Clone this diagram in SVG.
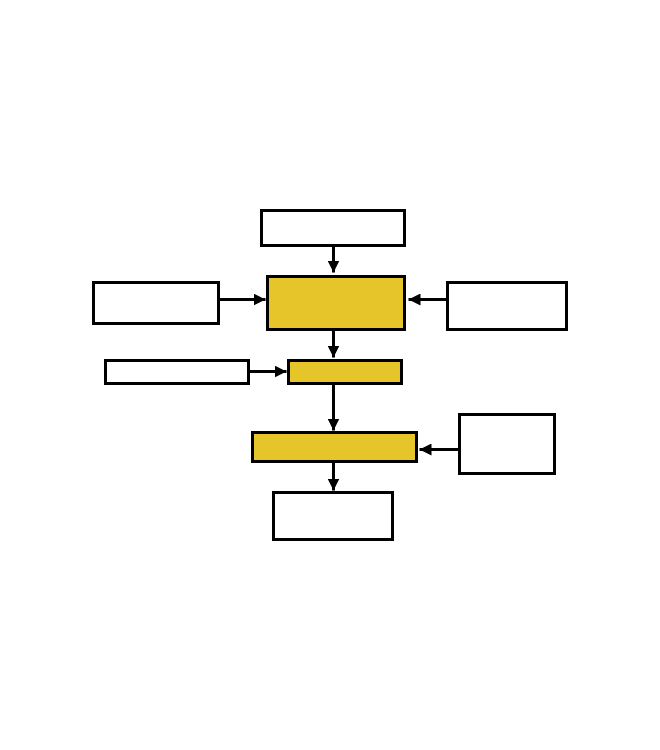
<svg xmlns="http://www.w3.org/2000/svg" width="660" height="750" viewBox="0 0 660 750">
<style>
.box{fill:#ffffff;stroke:#000;stroke-width:3}
.hl{fill:#e6c52a;stroke:#000;stroke-width:3}
.c{stroke:#000;stroke-width:3;fill:none}
</style>
<defs>
<marker id="ah" markerWidth="4" markerHeight="4" refX="4" refY="2" orient="auto" markerUnits="strokeWidth">
<path d="M0,0 L4,2 L0,4 Z" fill="#000"/>
</marker>
</defs>
<rect width="660" height="750" fill="#fff"/>
<g transform="translate(0.5,0.5)">
<g id="connectors">
<line class="c" x1="333" y1="245" x2="333" y2="272" marker-end="url(#ah)"/>
<line class="c" x1="218" y1="299" x2="265" y2="299" marker-end="url(#ah)"/>
<line class="c" x1="447" y1="299" x2="408" y2="299" marker-end="url(#ah)"/>
<line class="c" x1="333" y1="329" x2="333" y2="357" marker-end="url(#ah)"/>
<line class="c" x1="248" y1="371" x2="286" y2="371" marker-end="url(#ah)"/>
<line class="c" x1="333" y1="383" x2="333" y2="430" marker-end="url(#ah)"/>
<line class="c" x1="459" y1="449" x2="419" y2="449" marker-end="url(#ah)"/>
<line class="c" x1="333" y1="461" x2="333" y2="490" marker-end="url(#ah)"/>
</g>
<g id="top"><rect class="box" x="261" y="210" width="143" height="35"/></g>
<g id="center"><rect class="hl" x="267" y="276" width="137" height="53"/></g>
<g id="left"><rect class="box" x="93" y="282" width="125" height="41"/></g>
<g id="right"><rect class="box" x="447" y="282" width="119" height="47"/></g>
<g id="mid"><rect class="hl" x="288" y="360" width="113" height="23"/></g>
<g id="left2"><rect class="box" x="105" y="360" width="143" height="23"/></g>
<g id="lower"><rect class="hl" x="252" y="432" width="164" height="29"/></g>
<g id="right3"><rect class="box" x="459" y="414" width="95" height="59"/></g>
<g id="bottom"><rect class="box" x="273" y="492" width="119" height="47"/></g>
</g>
</svg>
